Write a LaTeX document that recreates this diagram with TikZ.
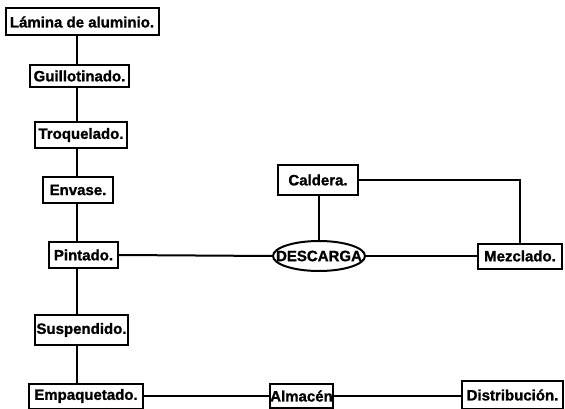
\documentclass[tikz,border=0pt]{standalone}
\usepackage{fontspec}
\setmainfont{Liberation Sans}
\newfontfamily\heavyfont[FakeBold=1.2]{Liberation Sans Bold}
\usetikzlibrary{shapes.geometric,calc}
\begin{document}
\begin{tikzpicture}[x=1pt,y=-1pt,
  line width=2pt,
  lbl/.style={font=\heavyfont\fontsize{15}{15}\selectfont},
  procbox/.style={lbl,draw,rectangle,inner sep=0pt,minimum width=#1},
  ovalbox/.style={lbl,draw,ellipse,inner sep=0pt,minimum width=92pt,minimum height=30pt},
  link/.style={line width=2pt}]
\useasboundingbox (0,0) rectangle (565,409);
\node[procbox=153pt,minimum height=27pt] (lam) at (82,22) {Lámina de aluminio.};
\node[procbox=99pt,minimum height=22pt] (gui) at (79.5,76) {Guillotinado.};
\node[procbox=92pt,minimum height=26pt] (tro) at (81,135) {Troquelado.};
\node[procbox=70pt,minimum height=26pt] (env) at (78,190) {Envase.};
\node[procbox=69pt,minimum height=26pt] (pin) at (83.5,255) {Pintado.};
\node[procbox=93pt,minimum height=30pt] (sus) at (81.5,330) {Suspendido.};
\node[procbox=114pt,minimum height=25pt] (emp) at (86,396) {Empaquetado.};
\node[procbox=63pt,minimum height=24pt] (alm) at (301.5,396) {Almacén};
\node[procbox=101pt,minimum height=28pt] (dis) at (512.5,395) {Distribución.};
\node[procbox=80pt,minimum height=30pt] (cal) at (318,180) {Caldera.};
\node[ovalbox] (des) at (319,256) {\makebox[0pt]{DESCARGA}\vphantom{A}};
\node[procbox=84pt,minimum height=25pt] (mez) at (520,256) {Mezclado.};
\coordinate (sp) at (77,0);
\draw[link] (lam.south -| sp) -- (gui.north -| sp);
\draw[link] (gui.south -| sp) -- (tro.north -| sp);
\draw[link] (tro.south -| sp) -- (env.north -| sp);
\draw[link] (env.south -| sp) -- (pin.north -| sp);
\draw[link] (pin.south -| sp) -- (sus.north -| sp);
\draw[link] (sus.south -| sp) -- (emp.north -| sp);
\draw[link] (pin.east) -- (des.west);
\draw[link] (des.east) -- (mez.west);
\draw[link] (cal.south -| des.north) -- (des.north);
\draw[link] (cal.east) -| (mez.north);
\draw[link] (emp.east) -- (alm.west);
\draw[link] (alm.east) -- (dis.west |- alm.east);
\end{tikzpicture}
\end{document}
